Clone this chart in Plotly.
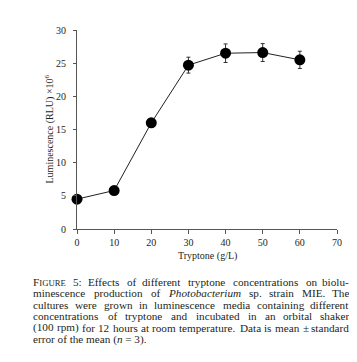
import plotly.graph_objects as go

tryptone = [0, 10, 20, 30, 40, 50, 60]
luminescence = [4.5, 5.8, 16.0, 24.7, 26.5, 26.6, 25.5]
sem = [0.3, 0.3, 0.3, 1.2, 1.4, 1.35, 1.3]
x_ticks = [0, 10, 20, 30, 40, 50, 60, 70]
y_ticks = [0, 5, 10, 15, 20, 25, 30]
x_title = "Tryptone (g/L)"
y_title = "Luminescence (RLU) ×10<sup>6</sup>"

# caption words per justified line; segments: (text, style) r=roman, i=italic, sc=small caps
caption_lines = [
    [[("FIGURE", "sc")], [("5:", "r")], [("Effects", "r")], [("of", "r")], [("different", "r")],
     [("tryptone", "r")], [("concentrations", "r")], [("on", "r")], [("biolu-", "r")]],
    [[("minescence", "r")], [("production", "r")], [("of", "r")], [("Photobacterium", "i")],
     [("sp.", "r")], [("strain", "r")], [("MIE.", "r")], [("The", "r")]],
    [[("cultures", "r")], [("were", "r")], [("grown", "r")], [("in", "r")], [("luminescence", "r")],
     [("media", "r")], [("containing", "r")], [("different", "r")]],
    [[("concentrations", "r")], [("of", "r")], [("tryptone", "r")], [("and", "r")], [("incubated", "r")],
     [("in", "r")], [("an", "r")], [("orbital", "r")], [("shaker", "r")]],
    [[("(100", "r")], [("rpm)", "r")], [("for", "r")], [("12", "r")], [("hours", "r")], [("at", "r")],
     [("room", "r")], [("temperature.", "r")], [("Data", "r")], [("is", "r")], [("mean", "r")],
     [("±", "r")], [("standard", "r")]],
]
caption_last = "error of the mean (<i>n</i> = 3)."

FONT = "Liberation Serif"
CAP_SIZE = 11.2
SC_SCALE = 0.78
W_FUDGE = 1.03

# approximate Times advance widths (per 1000 em)
W_R = dict(zip("ABCDEFGHIJKLMNOPQRSTUVWXYZ",
               [722, 667, 667, 722, 611, 556, 722, 722, 333, 389, 722, 611, 889, 722, 722, 556, 722, 667, 556, 611, 722, 722, 944, 722, 722, 611]))
W_R.update(zip("abcdefghijklmnopqrstuvwxyz",
               [444, 500, 444, 500, 444, 333, 500, 500, 278, 278, 500, 278, 778, 500, 500, 500, 500, 333, 389, 278, 500, 500, 722, 500, 500, 444]))
W_R.update({c: 500 for c in "0123456789"})
W_R.update({" ": 250, "(": 333, ")": 333, ",": 250, "-": 333, ".": 250, ":": 278, "=": 564, "±": 564, "/": 278})
W_I = dict(W_R)
W_I.update({"P": 611, "a": 500, "r": 389, "m": 722})


def seg_width(text, style):
    if style == "sc":
        w = W_R.get(text[0], 500) + sum(W_R.get(c, 500) for c in text[1:]) * SC_SCALE
    elif style == "i":
        w = sum(W_I.get(c, 500) for c in text)
    else:
        w = sum(W_R.get(c, 500) for c in text)
    return w * CAP_SIZE * W_FUDGE / 1000.0


def seg_html(text, style):
    if style == "sc":
        return text[0] + "<span style='font-size:%.1fpx'>%s</span>" % (CAP_SIZE * SC_SCALE, text[1:])
    if style == "i":
        return "<i>%s</i>" % text
    return text


# layout geometry (page has 8px body margin)
FIG_W, FIG_H = 349, 354
ML, MR, MT, MB = 69, 20, 22, 133
PW = FIG_W - ML - MR
PH = FIG_H - MT - MB
OFF = 8


def px(page_x):
    return (page_x - OFF - ML) / PW


def py(page_y):
    return 1 - (page_y - OFF - MT) / PH


fig = go.Figure()
fig.add_trace(go.Scatter(
    x=tryptone, y=luminescence,
    mode="lines+markers",
    line=dict(color="#231f20", width=1),
    marker=dict(color="black", size=11),
    error_y=dict(type="data", array=sem, visible=True, color="#333333", thickness=1, width=2),
    cliponaxis=False,
    showlegend=False,
))

fig.update_layout(
    width=FIG_W, height=FIG_H,
    margin=dict(l=ML, r=MR, t=MT, b=MB),
    paper_bgcolor="white", plot_bgcolor="white",
    font=dict(family=FONT, size=10, color="#231f20"),
)
fig.update_xaxes(
    range=[0, 70], tickvals=x_ticks, showgrid=False, zeroline=False,
    showline=True, linecolor="#555555", linewidth=1,
    ticks="outside", ticklen=4, tickcolor="#555555",
    tickfont=dict(family=FONT, size=10, color="#231f20"),
)
fig.update_yaxes(
    range=[0, 30], tickvals=y_ticks, showgrid=False, zeroline=False,
    showline=True, linecolor="#555555", linewidth=1,
    ticks="outside", ticklen=3, tickcolor="#555555", ticklabelstandoff=5,
    tickfont=dict(family=FONT, size=10, color="#231f20"),
)

# axis titles
fig.add_annotation(text=x_title, xref="paper", yref="paper", x=0.5, y=py(256),
                   xanchor="center", yanchor="middle", showarrow=False,
                   font=dict(family=FONT, size=10, color="#231f20"))
fig.add_annotation(text=y_title, xref="paper", yref="paper", x=px(49), y=0.5,
                   xanchor="center", yanchor="middle", showarrow=False, textangle=-90,
                   font=dict(family=FONT, size=10, color="#231f20"))

# caption, justified between page x 32 and 350
LEFT, RIGHT = 32, 350
Y0, DY = 282, 11.4
for i, words in enumerate(caption_lines):
    widths = [sum(seg_width(t, s) for t, s in w) for w in words]
    gap = (RIGHT - LEFT - sum(widths)) / (len(words) - 1)
    x = LEFT
    n = len(words)
    for k, (w, wd) in enumerate(zip(words, widths)):
        last = k == n - 1
        fig.add_annotation(
            text="".join(seg_html(t, s) for t, s in w), xref="paper", yref="paper",
            x=px(RIGHT if last else x), y=py(Y0 + i * DY),
            xanchor="right" if last else "left", yanchor="middle",
            showarrow=False, borderpad=0,
            font=dict(family=FONT, size=CAP_SIZE, color="#231f20"),
        )
        x += wd + gap
fig.add_annotation(
    text=caption_last, xref="paper", yref="paper",
    x=px(LEFT), y=py(Y0 + len(caption_lines) * DY), xanchor="left", yanchor="middle",
    showarrow=False, borderpad=0, align="left",
    font=dict(family=FONT, size=CAP_SIZE, color="#231f20"),
)

fig.write_html("out.html")
